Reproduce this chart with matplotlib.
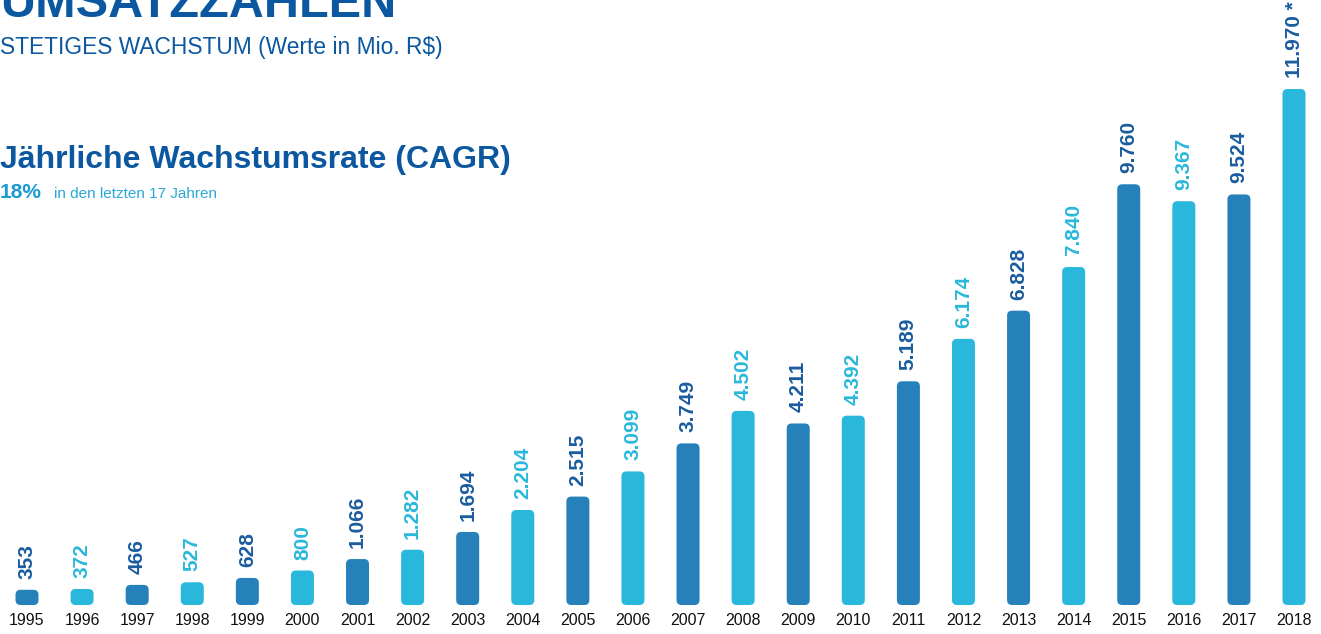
import matplotlib.pyplot as plt
from matplotlib.patches import FancyBboxPatch

# ==============================
# Data (Mio. R$)
# ==============================
years = [str(y) for y in range(1995, 2019)]
revenue = [353, 372, 466, 527, 628, 800, 1066, 1282, 1694, 2204, 2515, 3099,
           3749, 4502, 4211, 4392, 5189, 6174, 6828, 7840, 9760, 9367, 9524, 11970]
labels = ["353", "372", "466", "527", "628", "800", "1.066", "1.282", "1.694",
          "2.204", "2.515", "3.099", "3.749", "4.502", "4.211", "4.392", "5.189",
          "6.174", "6.828", "7.840", "9.760", "9.367", "9.524", "11.970 *"]

DARK_BAR = "#2681ba"
LIGHT_BAR = "#29b8db"
DARK_TXT = "#1a5c9f"
TITLE = "#0b57a0"

plt.rcParams["font.family"] = ["Liberation Sans", "DejaVu Sans"]

W, H = 1321, 634
fig = plt.figure(figsize=(W / 100, H / 100), dpi=100)
ax = fig.add_axes([0, 0, 1, 1])
ax.set_axis_off()

# pixel mapping: first bar at x=27px, last at x=1294px, baseline at 29px from bottom
step = (1294 - 27) / (len(years) - 1)
x0 = -27 / step
x1 = (W - 27) / step
per_px = max(revenue) / 516.0
y0 = -29 * per_px
y1 = (H - 29) * per_px
ax.set_xlim(x0, x1)
ax.set_ylim(y0, y1)

bar_w = 23 / step
aspect = per_px / (1 / step)  # data-y per data-x at equal pixel size

for i, (v, lab) in enumerate(zip(revenue, labels)):
    dark = i % 2 == 0
    col = DARK_BAR if dark else LIGHT_BAR
    # the starred last label is dark in the original
    txt_col = DARK_TXT if (dark or i == len(revenue) - 1) else LIGHT_BAR
    box = FancyBboxPatch((i - bar_w / 2, 0), bar_w, v,
                         boxstyle="round,pad=0,rounding_size=%f" % (5 / step),
                         mutation_aspect=aspect, facecolor=col, edgecolor="none")
    ax.add_patch(box)
    ax.text(i, v + 11 * per_px, lab, rotation=90, ha="center", va="bottom",
            fontsize=15, fontweight="bold", color=txt_col)
    ax.text(i, -8 * per_px, years[i], ha="center", va="top", fontsize=11.5,
            color="#111111")

# ==============================
# Headings
# ==============================
fig.text(0, 1 - 17 / H, "UMSATZZAHLEN", fontsize=35, fontweight="bold",
         color=TITLE, va="baseline", ha="left")
fig.text(0, 1 - 54 / H, "STETIGES WACHSTUM (Werte in Mio. R$)", fontsize=16.4,
         color=TITLE, va="baseline", ha="left")
fig.text(0, 1 - 168 / H, "Jährliche Wachstumsrate (CAGR)", fontsize=23,
         fontweight="bold", color=TITLE, va="baseline", ha="left")
fig.text(0, 1 - 198 / H, "18%", fontsize=15, fontweight="bold",
         color="#1d9ad3", va="baseline", ha="left")
fig.text(54 / W, 1 - 198 / H, "in den letzten 17 Jahren", fontsize=11,
         color="#2aa7d8", va="baseline", ha="left")

fig.savefig("out.png", dpi=100)
